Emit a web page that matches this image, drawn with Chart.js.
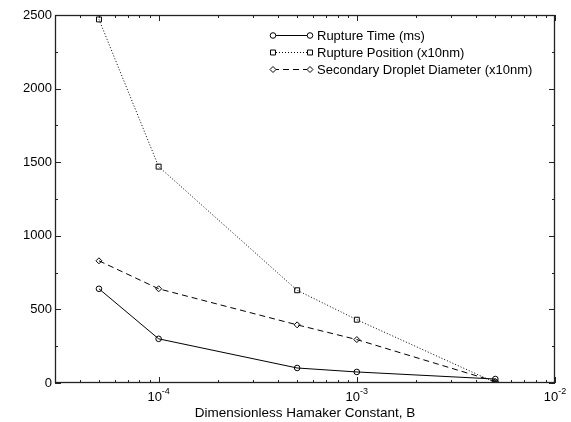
<!DOCTYPE html>
<html>
<head>
<meta charset="utf-8">
<script src="https://cdn.jsdelivr.net/npm/chart.js@4.4.0/dist/chart.umd.min.js"></script>
<style>
  html, body { margin: 0; padding: 0; background: #fff; }
  #wrap { width: 571px; height: 422px; }
</style>
</head>
<body>
<div id="wrap"><canvas id="myChart" width="571" height="422"></canvas></div>
<script>
// values
const hamaker = [5e-5, 1e-4, 5e-4, 1e-3, 5e-3];
const ruptureTime = [640, 300, 102, 75, 27];
const rupturePosition = [2470, 1470, 630, 430, 3];
const dropletDiameter = [830, 640, 395, 295, 10];

const xMajorTicks = [1e-4, 1e-3, 1e-2];
const xMajorLabels = ['-4', '-3', '-2'];
const yTicks = [0, 500, 1000, 1500, 2000, 2500];

const FONT = '"Liberation Sans", Arial, Helvetica, sans-serif';

function points(ys) {
  return hamaker.map((x, i) => ({ x: x, y: ys[i] }));
}

// frame, inward ticks, x labels, title and legend
const framePlugin = {
  id: 'frame',
  afterDraw(chart) {
    const ctx = chart.ctx;
    const a = chart.chartArea;
    const xs = chart.scales.x;
    const ys = chart.scales.y;
    ctx.save();
    ctx.strokeStyle = '#222';
    ctx.lineWidth = 1;

    // x ticks (log minor + major), bottom and top
    for (let e = -5; e <= -2; e++) {
      for (let m = 1; m <= 9; m++) {
        const v = m * Math.pow(10, e);
        if (v < xs.min * 0.999 || v > xs.max * 1.001) continue;
        const px = Math.round(xs.getPixelForValue(v)) + 0.5;
        const len = m === 1 ? 6 : 3;
        ctx.beginPath();
        ctx.moveTo(px, a.bottom); ctx.lineTo(px, a.bottom - len);
        ctx.moveTo(px, a.top); ctx.lineTo(px, a.top + len);
        ctx.stroke();
      }
    }
    // y ticks, left and right
    for (let v = 0; v <= 2500; v += 250) {
      const py = Math.round(ys.getPixelForValue(v)) + 0.5;
      const len = v % 500 === 0 ? 6 : 3;
      ctx.beginPath();
      ctx.moveTo(a.left, py); ctx.lineTo(a.left + len, py);
      ctx.moveTo(a.right, py); ctx.lineTo(a.right - len, py);
      ctx.stroke();
    }
    ctx.lineWidth = 1.3;
    ctx.strokeRect(a.left + 0.5, a.top + 0.5, a.right - a.left - 1, a.bottom - a.top - 1);

    // x labels as 10^n
    ctx.fillStyle = '#000';
    ctx.textBaseline = 'alphabetic';
    ctx.textAlign = 'left';
    xMajorTicks.forEach((v, i) => {
      const px = xs.getPixelForValue(v);
      ctx.font = '13px ' + FONT;
      const w1 = ctx.measureText('10').width;
      ctx.font = '9px ' + FONT;
      const w2 = ctx.measureText(xMajorLabels[i]).width;
      const x0 = px - (w1 + w2) / 2;
      ctx.font = '13px ' + FONT;
      ctx.fillText('10', x0, a.bottom + 18);
      ctx.font = '9px ' + FONT;
      ctx.fillText(xMajorLabels[i], x0 + w1, a.bottom + 11);
    });

    // axis title
    ctx.font = '13.5px ' + FONT;
    ctx.textAlign = 'center';
    ctx.textBaseline = 'middle';
    ctx.fillText('Dimensionless Hamaker Constant, B', (a.left + a.right) / 2, a.bottom + 30);

    // legend
    ctx.font = '13px ' + FONT;
    ctx.textAlign = 'left';
    chart.data.datasets.forEach((ds, i) => {
      const y = a.top + 20 + 17 * i;
      const x1 = a.left + 218, x2 = a.left + 255;
      ctx.strokeStyle = ds.borderColor;
      ctx.lineWidth = ds.borderWidth;
      ctx.setLineDash(ds.borderDash || []);
      ctx.beginPath();
      ctx.moveTo(x1, y + 0.5); ctx.lineTo(x2, y + 0.5);
      ctx.stroke();
      ctx.setLineDash([]);
      const opts = { pointStyle: ds.pointStyle, radius: ds.pointRadius, borderWidth: 1, rotation: 0 };
      ctx.fillStyle = '#fff';
      Chart.helpers.drawPoint(ctx, opts, x1, y + 0.5);
      Chart.helpers.drawPoint(ctx, opts, x2, y + 0.5);
      ctx.fillStyle = '#000';
      ctx.fillText(ds.label, x2 + 7, y + 1);
    });
    ctx.restore();
  }
};

const ctx = document.getElementById('myChart');
const myChart = new Chart(ctx, {
  type: 'line',
  data: {
    datasets: [{
      label: 'Rupture Time (ms)',
      data: points(ruptureTime),
      borderColor: '#000',
      borderWidth: 1,
      pointStyle: 'circle',
      pointRadius: 2.8,
      pointBorderColor: '#000',
      pointBackgroundColor: 'rgba(255,255,255,0)',
      pointBorderWidth: 1
    }, {
      label: 'Rupture Position (x10nm)',
      data: points(rupturePosition),
      borderColor: '#000',
      borderWidth: 1,
      borderDash: [1, 2],
      pointStyle: 'rect',
      pointRadius: 3.5,
      pointBorderColor: '#000',
      pointBackgroundColor: 'rgba(255,255,255,0)',
      pointBorderWidth: 1
    }, {
      label: 'Secondary Droplet Diameter (x10nm)',
      data: points(dropletDiameter),
      borderColor: '#000',
      borderWidth: 1,
      borderDash: [6, 4],
      pointStyle: 'rectRot',
      pointRadius: 3,
      pointBorderColor: '#000',
      pointBackgroundColor: 'rgba(255,255,255,0)',
      pointBorderWidth: 1
    }]
  },
  options: {
    responsive: false,
    animation: false,
    layout: { padding: { top: 15, right: 16, left: 0, bottom: 0 } },
    plugins: { legend: { display: false }, tooltip: { enabled: false } },
    scales: {
      x: {
        type: 'logarithmic',
        min: 3e-5,
        max: 1e-2,
        grid: { display: false, drawTicks: false },
        border: { display: false },
        ticks: { display: false },
        afterFit(scale) { scale.height = 39; }
      },
      y: {
        type: 'linear',
        min: 0,
        max: 2500,
        grid: { display: false, drawTicks: false },
        border: { display: false },
        afterBuildTicks(scale) { scale.ticks = yTicks.map(v => ({ value: v })); },
        ticks: {
          color: '#000',
          padding: 3,
          font: { family: FONT, size: 13 },
          callback: (v) => String(v)
        },
        afterFit(scale) { scale.width = 55; }
      }
    }
  },
  plugins: [framePlugin]
});
</script>
</body>
</html>
